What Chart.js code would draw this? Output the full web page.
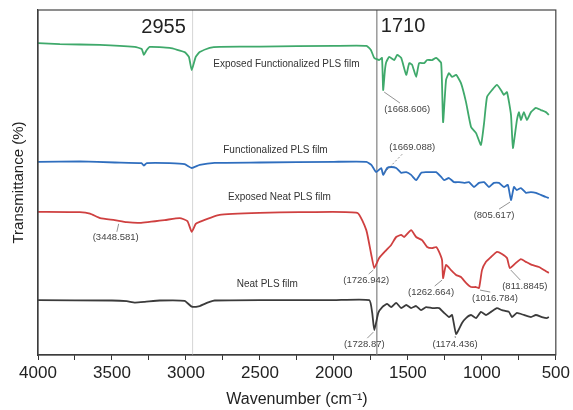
<!DOCTYPE html>
<html>
<head>
<meta charset="utf-8">
<script src="https://cdn.jsdelivr.net/npm/chart.js@4.4.0/dist/chart.umd.min.js"></script>
<style>
  body { margin: 0; background: #fff; }
  #wrap { width: 573px; height: 410px; }
</style>
</head>
<body>
<div id="wrap"><canvas id="ftir" width="573" height="410"></canvas></div>
<script>
// wavenumbers (cm-1) and transmittance
const greenWn = [4000, 3852, 3582, 3346, 3299, 3285, 3265, 3245, 3110, 3009, 2980, 2961, 2934, 2907, 2840, 2773, 2500, 2000, 1780, 1750, 1727, 1694, 1675, 1667, 1655, 1646, 1626, 1592, 1572, 1545, 1511, 1491, 1471, 1444, 1424, 1390, 1370, 1336, 1309, 1275, 1262, 1242, 1222, 1201, 1174, 1141, 1107, 1073, 1039, 1006, 985, 965, 931, 898, 871, 851, 830, 803, 790, 763, 749, 736, 716, 695, 668, 635, 601, 567, 547];
const greenT = [90.4, 90.1, 89.9, 89.3, 88.7, 87.0, 88.4, 89.3, 89.0, 87.8, 86.4, 82.6, 86.4, 87.8, 89.0, 89.3, 89.4, 89.6, 89.6, 88.4, 86.1, 85.5, 86.1, 76.8, 82.6, 84.9, 86.4, 85.5, 87.0, 86.1, 81.2, 84.6, 84.1, 80.6, 84.6, 84.6, 85.5, 85.5, 86.1, 84.6, 67.5, 79.7, 81.7, 80.6, 81.2, 78.8, 73.3, 66.1, 64.3, 60.9, 67.2, 74.8, 76.8, 78.3, 76.8, 75.4, 76.2, 69.6, 60.0, 68.1, 70.4, 68.1, 70.4, 68.1, 70.4, 71.6, 71.0, 70.4, 69.6];

const blueWn = [4000, 3717, 3480, 3300, 3285, 3265, 3110, 3009, 2961, 2907, 2806, 2500, 2000, 1780, 1747, 1714, 1680, 1667, 1640, 1613, 1579, 1545, 1511, 1478, 1444, 1410, 1377, 1343, 1309, 1275, 1255, 1222, 1188, 1154, 1120, 1087, 1053, 1019, 985, 952, 918, 884, 851, 824, 803, 783, 763, 736, 702, 668, 635, 601, 567, 547];
const blueT = [56.0, 56.1, 55.8, 55.6, 54.9, 55.6, 55.6, 55.3, 54.2, 55.1, 55.7, 55.8, 56.0, 56.0, 55.1, 53.0, 54.2, 52.2, 54.2, 54.5, 54.2, 52.8, 53.0, 52.2, 50.7, 52.8, 53.0, 53.0, 53.0, 51.6, 50.7, 51.3, 50.1, 50.1, 49.9, 50.1, 48.7, 49.9, 50.1, 48.7, 49.9, 49.9, 48.7, 49.3, 44.9, 48.7, 47.8, 48.4, 47.0, 47.2, 47.0, 46.4, 45.8, 45.5];

const redWn = [4000, 3717, 3649, 3580, 3481, 3400, 3312, 3144, 3042, 2990, 2961, 2934, 2907, 2773, 2503, 2233, 1842, 1781, 1747, 1727, 1694, 1646, 1613, 1579, 1545, 1525, 1478, 1444, 1404, 1370, 1336, 1309, 1289, 1269, 1262, 1242, 1208, 1174, 1141, 1107, 1073, 1039, 1019, 999, 972, 938, 898, 864, 830, 811, 770, 736, 702, 662, 614, 567, 547];
const redT = [41.5, 41.4, 41.0, 39.7, 39.1, 38.5, 38.3, 39.1, 39.7, 38.8, 35.7, 38.0, 38.6, 40.6, 41.2, 41.4, 41.2, 36.2, 29.0, 25.2, 28.1, 30.4, 31.9, 34.2, 34.8, 34.2, 36.2, 34.2, 33.3, 31.3, 31.0, 31.3, 29.9, 27.5, 22.3, 26.1, 24.6, 23.2, 22.6, 20.9, 19.7, 19.7, 19.4, 24.6, 27.0, 28.4, 29.9, 29.3, 28.1, 25.2, 26.7, 27.8, 27.0, 26.1, 25.5, 24.3, 23.8];

const blackWn = [4000, 3500, 3400, 3346, 3278, 3177, 3009, 2961, 2907, 2874, 2840, 2806, 2500, 2000, 1761, 1741, 1727, 1700, 1673, 1640, 1613, 1579, 1545, 1511, 1478, 1444, 1410, 1377, 1336, 1289, 1255, 1222, 1201, 1174, 1134, 1107, 1073, 1039, 1006, 972, 938, 898, 864, 817, 797, 763, 716, 668, 635, 594, 561, 547];
const blackT = [15.9, 15.8, 15.6, 15.2, 15.4, 15.8, 15.7, 14.0, 14.2, 14.8, 15.4, 15.8, 15.9, 15.9, 15.9, 12.2, 7.2, 12.2, 13.9, 14.8, 13.9, 15.1, 13.6, 14.5, 13.6, 14.2, 13.0, 13.9, 13.6, 13.6, 12.2, 11.0, 11.6, 6.1, 9.3, 10.7, 11.6, 10.7, 12.5, 11.6, 12.5, 13.6, 13.0, 12.5, 11.0, 12.2, 11.6, 11.0, 11.6, 11.0, 10.7, 11.0];

const seriesNames = ["Exposed Functionalized PLS film", "Functionalized PLS film", "Exposed Neat PLS film", "Neat PLS film"];
const markedLines = [2955, 1710];

// peak labels: text, wavenumber, transmittance at the peak
const peakText = ["(1668.606)", "(1669.088)", "(805.617)", "(3448.581)", "(1726.942)", "(1262.664)", "(1016.784)", "(811.8845)", "(1728.87)", "(1174.436)"];
const peakWn = [1667, 1667, 803, 3448, 1727, 1262, 1019, 811, 1727, 1174];
const peakT = [76.8, 52.2, 44.9, 38.6, 25.2, 22.3, 19.4, 25.2, 7.2, 6.1];

function pairs(xs, ys) {
    return xs.map((x, i) => ({ x: x, y: ys[i] }));
}

// pixel offsets of each peak label centre from its peak
const peakOffsets = [[24, 19], [29, -28], [-17, 15], [-4, 16], [-8, 12], [-12, 14], [16, 10], [15, 18], [-10, 14], [-1, 10]];
// series label anchors (data units)
const nameAnchors = [[2321, 84.3], [2395, 59.4], [2368, 45.8], [2450, 20.6]];

const decorPlugin = {
    id: "decor",
    beforeDatasetsDraw(chart) {
        const ctx = chart.ctx;
        const xs = chart.scales.x;
        const a = chart.chartArea;
        ctx.save();
        markedLines.forEach((wn, i) => {
            const px = xs.getPixelForValue(wn);
            ctx.strokeStyle = i === 0 ? "#d6d6d6" : "#9a9a9a";
            ctx.lineWidth = i === 0 ? 1 : 1.5;
            ctx.beginPath();
            ctx.moveTo(px, a.top);
            ctx.lineTo(px, a.bottom);
            ctx.stroke();
        });
        ctx.restore();
    },
    afterDatasetsDraw(chart) {
        const ctx = chart.ctx;
        const xs = chart.scales.x;
        const ys = chart.scales.y;
        const a = chart.chartArea;
        ctx.save();
        // frame
        ctx.strokeStyle = "#444";
        ctx.lineWidth = 1.2;
        ctx.strokeRect(a.left, a.top, a.right - a.left, a.bottom - a.top);

        // big marker labels
        ctx.fillStyle = "#222";
        ctx.font = "20px 'Liberation Sans', Arial, sans-serif";
        ctx.textBaseline = "middle";
        ctx.textAlign = "center";
        ctx.fillText(String(markedLines[0]), xs.getPixelForValue(markedLines[0]) - 29, 27);
        ctx.textAlign = "left";
        ctx.fillText(String(markedLines[1]), xs.getPixelForValue(markedLines[1]) + 4, 26);

        // series names
        ctx.font = "10px 'Liberation Sans', Arial, sans-serif";
        ctx.fillStyle = "#333";
        ctx.textAlign = "center";
        seriesNames.forEach((n, i) => {
            ctx.fillText(n, xs.getPixelForValue(nameAnchors[i][0]), ys.getPixelForValue(nameAnchors[i][1]));
        });

        // peak labels with leader lines
        ctx.font = "9.5px 'Liberation Sans', Arial, sans-serif";
        ctx.fillStyle = "#444";
        ctx.strokeStyle = "#777";
        ctx.lineWidth = 0.8;
        peakText.forEach((t, i) => {
            const px = xs.getPixelForValue(peakWn[i]);
            const py = ys.getPixelForValue(peakT[i]);
            const dx = peakOffsets[i][0];
            const dy = peakOffsets[i][1];
            const lx = px + dx;
            const ly = py + dy;
            ctx.setLineDash(i === 1 ? [2, 2] : []);
            ctx.beginPath();
            ctx.moveTo(px + Math.sign(dx) * 1, py + Math.sign(dy) * 2);
            ctx.lineTo(lx - dx * 0.3, ly - Math.sign(dy) * 6);
            ctx.stroke();
            ctx.fillText(t, lx, ly);
        });
        ctx.restore();
    }
};

new Chart(document.getElementById("ftir").getContext("2d"), {
    type: "line",
    data: {
        datasets: [
            { data: pairs(greenWn, greenT), borderColor: "#3fa96b" },
            { data: pairs(blueWn, blueT), borderColor: "#2f6ebe" },
            { data: pairs(redWn, redT), borderColor: "#cf4040" },
            { data: pairs(blackWn, blackT), borderColor: "#3b3b3b" }
        ]
    },
    options: {
        responsive: false,
        animation: false,
        parsing: false,
        layout: { padding: { top: 10, right: 16, bottom: 0, left: 0 } },
        elements: {
            line: { borderWidth: 1.8, tension: 0.15, fill: false },
            point: { radius: 0 }
        },
        plugins: { legend: { display: false }, tooltip: { enabled: false } },
        scales: {
            x: {
                type: "linear",
                reverse: true,
                min: 500,
                max: 4000,
                afterFit(scale) { scale.height = 55; },
                grid: { drawOnChartArea: false, tickLength: 5, color: "#333" },
                border: { color: "#333", width: 1.2 },
                ticks: {
                    stepSize: 250,
                    autoSkip: false,
                    maxRotation: 0,
                    padding: 3,
                    color: "#222",
                    font: { size: 17, family: "'Liberation Sans', Arial, sans-serif" },
                    callback: (v) => (v % 500 === 0 ? String(v) : "")
                },
                title: {
                    display: true,
                    text: "Wavenumber (cm\u207B\u00B9)",
                    color: "#222",
                    font: { size: 16, family: "'Liberation Sans', Arial, sans-serif" },
                    padding: { top: 0, bottom: 1 }
                }
            },
            y: {
                type: "linear",
                min: 0,
                max: 100,
                afterFit(scale) { scale.width = 38; },
                grid: { display: false },
                border: { color: "#333", width: 1.2 },
                ticks: { display: false },
                title: {
                    display: true,
                    text: "Transmittance (%)",
                    color: "#222",
                    font: { size: 15, family: "'Liberation Sans', Arial, sans-serif" },
                    padding: { top: 10, bottom: 0 }
                }
            }
        }
    },
    plugins: [decorPlugin]
});
</script>
</body>
</html>
